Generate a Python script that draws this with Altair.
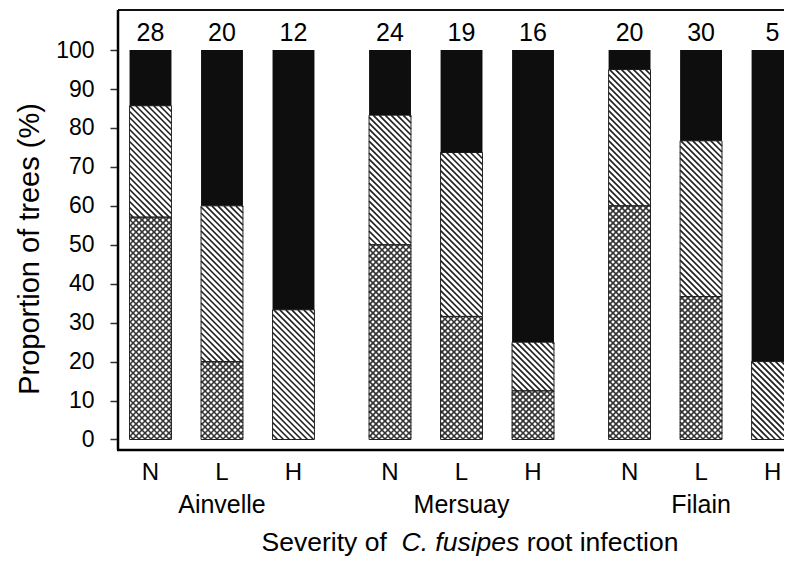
import altair as alt
import pandas as pd

# ---------------- data ----------------
sites = ["Ainvelle", "Mersuay", "Filain"]
severities = ["N", "L", "H"]
n_trees = [28, 20, 12, 24, 19, 16, 20, 30, 5]
# cumulative upper limits (%) of the stacked classes, bottom to top
crosshatch_top = [57.1, 20.0, 0.0, 50.0, 31.6, 12.5, 60.0, 36.7, 0.0]
hatched_top = [85.7, 60.0, 33.3, 83.3, 73.7, 25.0, 95.0, 76.7, 20.0]
black_top = [100.0, 100.0, 100.0, 100.0, 100.0, 100.0, 100.0, 100.0, 100.0]
y_ticks = [0, 10, 20, 30, 40, 50, 60, 70, 80, 90, 100]

# ---------------- layout ----------------
W, H = 666, 440
PPX = 71.5
X0 = -32.5 / PPX
X1 = X0 + W / PPX
Y0, Y1 = -2.7, 110.3
GROUP_STEP = 3.35
HALF = 0.293
FONT = "Liberation Sans"
PPY = H / (Y1 - Y0)

rows = []
for i in range(len(n_trees)):
    s, v = divmod(i, 3)
    pos = s * GROUP_STEP + v
    rows.append(dict(site=sites[s], sev=severities[v], n=n_trees[i], pos=pos,
                     left=pos - HALF, right=pos + HALF, top=black_top[i],
                     c=crosshatch_top[i], h=hatched_top[i]))
bars = pd.DataFrame(rows)

seg_rows = []
for r in rows:
    seg_rows.append(dict(cls="cross", left=r["left"], right=r["right"], lo=0.0, hi=r["c"]))
    seg_rows.append(dict(cls="diag", left=r["left"], right=r["right"], lo=r["c"], hi=r["h"]))
    seg_rows.append(dict(cls="black", left=r["left"], right=r["right"], lo=r["h"], hi=r["top"]))
segs = pd.DataFrame(seg_rows)
segs = segs[segs.hi > segs.lo]


def hatch_lines(seg, direction, step):
    """45-degree hatch lines (in screen space) clipped to a segment, returned in data units."""
    L = (seg.left - X0) * PPX
    R = (seg.right - X0) * PPX
    T = (Y1 - seg.hi) * PPY
    B = (Y1 - seg.lo) * PPY
    out = []
    if direction > 0:  # "\" : y - x = c
        cmin, cmax = T - R, B - L
        k = int(cmin // step)
        while k * step <= cmax:
            c = k * step
            xa, xb = max(L, T - c), min(R, B - c)
            if xb - xa > 0.3:
                out.append((xa, xa + c, xb, xb + c))
            k += 1
    else:  # "/" : y + x = c
        cmin, cmax = T + L, B + R
        k = int(cmin // step)
        while k * step <= cmax:
            c = k * step
            xa, xb = max(L, c - B), min(R, c - T)
            if xb - xa > 0.3:
                out.append((xa, c - xa, xb, c - xb))
            k += 1
    return [dict(xa=X0 + a / PPX, ya=Y1 - b / PPY, xb=X0 + cc / PPX, yb=Y1 - d / PPY)
            for a, b, cc, d in out]


cross_lines, diag_lines = [], []
for _, sg in segs.iterrows():
    if sg.cls == "cross":
        cross_lines += hatch_lines(sg, 1, 6.0)
        cross_lines += hatch_lines(sg, -1, 6.0)
    elif sg.cls == "diag":
        diag_lines += hatch_lines(sg, 1, 6.0)
cross_df = pd.DataFrame(cross_lines)
diag_df = pd.DataFrame(diag_lines)

# ---------------- scales & axes ----------------
xs = alt.Scale(domain=[X0, X1], nice=False, zero=False)
ys = alt.Scale(domain=[Y0, Y1], nice=False, zero=False)
xaxis = alt.Axis(labels=False, ticks=False, grid=False, title=None, domain=False)
yaxis = alt.Axis(values=y_ticks, grid=False, title=None, tickSize=8, tickWidth=1.5,
                 tickColor="#333333", labelPadding=16, labelFontSize=23,
                 labelColor="black", labelFont=FONT, domain=False)


def X(f):
    return alt.X(f, type="quantitative", scale=xs, axis=xaxis)


def Y(f):
    return alt.Y(f, type="quantitative", scale=ys, axis=yaxis)


cross = alt.Chart(cross_df).mark_rule(clip=True, color="#333333", strokeWidth=1.6).encode(
    x=X("xa"), x2="xb", y=Y("ya"), y2="yb")
diag = alt.Chart(diag_df).mark_rule(clip=True, color="#1e1e1e", strokeWidth=1.6).encode(
    x=X("xa"), x2="xb", y=Y("ya"), y2="yb")
outline = alt.Chart(segs[segs.cls != "black"]).mark_rect(
    clip=True, fillOpacity=0, stroke="#222222", strokeWidth=1).encode(
    x=X("left"), x2="right", y=Y("lo"), y2="hi")
black = alt.Chart(segs[segs.cls == "black"]).mark_rect(clip=True, color="#0e0e0e").encode(
    x=X("left"), x2="right", y=Y("lo"), y2="hi")

numbers = alt.Chart(bars).mark_text(font=FONT, fontSize=25, dy=-9, baseline="alphabetic",
                                    color="black").encode(
    x=X("pos"), y=Y("top"), text="n:Q")
sev_lab = alt.Chart(bars).mark_text(font=FONT, fontSize=24, baseline="alphabetic",
                                    color="black").encode(
    x=X("pos"), y=alt.value(470), text="sev:N")
site_lab = alt.Chart(bars[bars.sev == "L"]).mark_text(font=FONT, fontSize=25,
                                                      baseline="alphabetic", color="black").encode(
    x=X("pos"), y=alt.value(503), text="site:N")

frame = pd.DataFrame({"a": [0]})
top_line = alt.Chart(frame).mark_rule(color="#111111", strokeWidth=2).encode(
    x=alt.value(0), x2=alt.value(W), y=alt.value(0))
left_line = alt.Chart(frame).mark_rule(color="black", strokeWidth=2.5).encode(
    x=alt.value(0), y=alt.value(0), y2=alt.value(H))
bottom_line = alt.Chart(frame).mark_rule(color="black", strokeWidth=2.5).encode(
    x=alt.value(-1), x2=alt.value(W), y=alt.value(H))

ytitle = alt.Chart(pd.DataFrame({"t": ["Proportion of trees (%)"]})).mark_text(
    font=FONT, fontSize=29, angle=270, align="center", baseline="middle", color="black").encode(
    x=alt.value(-88), y=alt.value(239), text="t:N")

t1 = alt.Chart(pd.DataFrame({"t": ["Severity of"]})).mark_text(
    font=FONT, fontSize=26.5, align="left", baseline="alphabetic", color="black").encode(
    x=alt.value(143.6), y=alt.value(541), text="t:N")
t2 = alt.Chart(pd.DataFrame({"t": ["C. fusipes"]})).mark_text(
    font=FONT, fontSize=26.5, fontStyle="italic", align="left", baseline="alphabetic",
    color="black").encode(
    x=alt.value(283.5), y=alt.value(541), text="t:N")
t3 = alt.Chart(pd.DataFrame({"t": ["root infection"]})).mark_text(
    font=FONT, fontSize=26.5, align="left", baseline="alphabetic", color="black").encode(
    x=alt.value(408.7), y=alt.value(541), text="t:N")

chart = alt.layer(
    cross, diag, outline, black, numbers, sev_lab, site_lab,
    top_line, left_line, bottom_line, ytitle, t1, t2, t3
).properties(
    width=W, height=H,
    autosize=alt.AutoSizeParams(type="none"),
    padding={"left": 110, "right": 0, "top": 2, "bottom": 112},
    background="white",
).configure_view(stroke="transparent").configure(font=FONT)

chart.save("out.html", embed_options={"renderer": "svg", "actions": False})
